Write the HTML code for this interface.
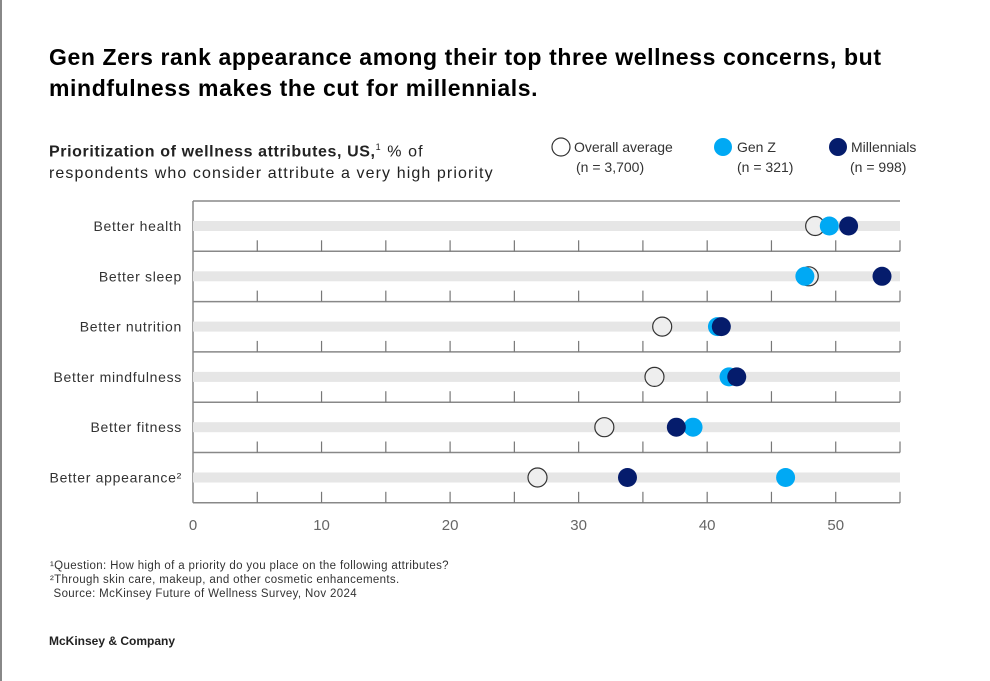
<!DOCTYPE html>
<html><head><meta charset="utf-8"><style>
body{margin:0;width:990px;height:681px;background:#fff;font-family:"Liberation Sans",sans-serif;color:#000;position:relative;overflow:hidden}
.abs{position:absolute}
</style></head><body>
<div class="abs" style="left:0;top:0;width:2px;height:681px;background:#888"></div>
<div class="abs" style="left:49px;top:42px;font-size:23px;font-weight:bold;line-height:31px;letter-spacing:0.6px">Gen Zers rank appearance among their top three wellness concerns, but<br>mindfulness makes the cut for millennials.</div>
<div class="abs" style="left:49px;top:136px;font-size:16px;line-height:22px;color:#222;letter-spacing:1.1px"><b style="letter-spacing:0.6px">Prioritization of wellness attributes, US,</b><sup style="font-size:9px">1</sup> % of<br>respondents who consider attribute a very high priority</div>
<svg class="abs" style="left:0;top:0" width="990" height="681" id="chart">
<g font-size="14" fill="#333">
<circle cx="561" cy="147" r="9" fill="#fff" stroke="#333" stroke-width="1.2"/>
<text x="574" y="152">Overall average</text><text x="576" y="172">(n = 3,700)</text>
<circle cx="723" cy="147" r="9" fill="#00a9f4"/>
<text x="737" y="152">Gen Z</text><text x="737" y="172">(n = 321)</text>
<circle cx="838" cy="147" r="9" fill="#051c6c"/>
<text x="851" y="152">Millennials</text><text x="850" y="172">(n = 998)</text>
</g>
</svg>
<div class="abs" style="left:50px;top:559px;font-size:11.5px;line-height:14px;color:#333;letter-spacing:0.35px">¹Question: How high of a priority do you place on the following attributes?<br>²Through skin care, makeup, and other cosmetic enhancements.<br>&nbsp;Source: McKinsey Future of Wellness Survey, Nov 2024</div>
<div class="abs" style="left:49px;top:634px;font-size:12px;font-weight:bold;color:#222">McKinsey &amp; Company</div>
<script>
const categories=["Better health","Better sleep","Better nutrition","Better mindfulness","Better fitness","Better appearance²"];
const overall=[48.4,47.9,36.5,35.9,32.0,26.8];
const genZ=[49.5,47.6,40.8,41.7,38.9,46.1];
const millennials=[51.0,53.6,41.1,42.3,37.6,33.8];
const xTicks=[0,10,20,30,40,50];
const NS="http://www.w3.org/2000/svg";
const svg=document.getElementById('chart');
const x0=193,x1=900,vmax=55,top0=201,rowH=50.3;
const xs=v=>x0+(x1-x0)*v/vmax;
function mk(t,a){const e=document.createElementNS(NS,t);for(const k in a)e.setAttribute(k,a[k]);svg.appendChild(e);return e;}
const ax=mk('line',{x1:x0,y1:top0,x2:x0,y2:top0+rowH*categories.length,stroke:'#888','stroke-width':1.5});


const tl=mk('line',{x1:x0,y1:top0,x2:x1,y2:top0,stroke:'#888','stroke-width':1.5});


categories.forEach((c,i)=>{
 const yb=top0+rowH*(i+1), yc=top0+rowH*i+25;
 const band=mk('rect',{x:x0,y:yc-5,width:x1-x0,height:10,fill:'#e6e6e6'});
 
 
 const sep=mk('line',{x1:x0,y1:yb,x2:x1,y2:yb,stroke:'#888','stroke-width':1.5});
 
 
 for(let v=5;v<=55;v+=5){const t=mk('line',{x1:xs(v),y1:yb-11,x2:xs(v),y2:yb,stroke:'#777','stroke-width':1.2});
 
 }
 const lab=mk('text',{x:182,y:yc+5,'text-anchor':'end','font-size':14,fill:'#333','letter-spacing':'0.7'});lab.textContent=c;
 
 
 const a=mk('circle',{cx:xs(overall[i]),cy:yc,r:9.5,fill:'#eeeeee',stroke:'#333','stroke-width':1.2});
 
 
 const g=mk('circle',{cx:xs(genZ[i]),cy:yc,r:9.5,fill:'#00a9f4'});
 
 
 const m=mk('circle',{cx:xs(millennials[i]),cy:yc,r:9.5,fill:'#051c6c'});
 
 
});
xTicks.forEach(v=>{const t=mk('text',{x:xs(v),y:530,'text-anchor':'middle','font-size':15,fill:'#666'});t.textContent=v;
 
 });
</script>
</body></html>
